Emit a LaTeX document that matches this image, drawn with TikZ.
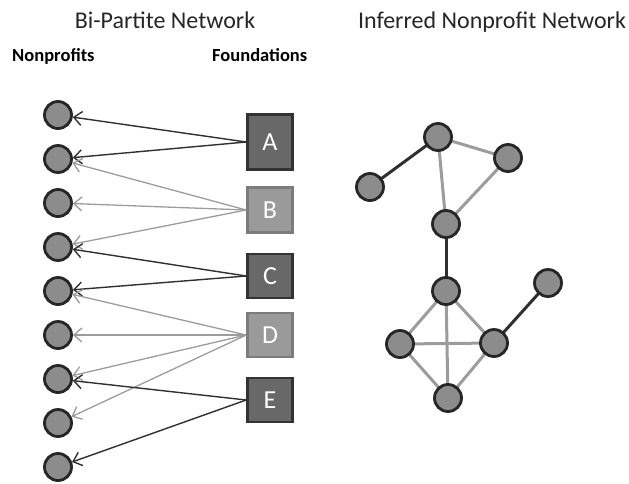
\documentclass[tikz,border=0pt]{standalone}
\usepackage{fontspec}
\setmainfont{Carlito}
\usetikzlibrary{arrows.meta}
\definecolor{nodefill}{HTML}{8C8C8C}
\definecolor{nodeline}{HTML}{262626}
\definecolor{darkbox}{HTML}{686868}
\definecolor{darkboxline}{HTML}{333333}
\definecolor{lightbox}{HTML}{9A9A9A}
\definecolor{lightboxline}{HTML}{7C7C7C}
\definecolor{darkedge}{HTML}{303030}
\definecolor{lightedge}{HTML}{9C9C9C}
\tikzset{
  npnode/.style={circle, fill=nodefill, draw=nodeline, line width=2.8pt, minimum size=27pt, inner sep=0pt},
  fdark/.style={rectangle, fill=darkbox, draw=darkboxline, line width=2.6pt, minimum width=45pt, inner sep=0pt, text=white, font=\fontsize{26}{28}\selectfont},
  flight/.style={rectangle, fill=lightbox, draw=lightboxline, line width=2.6pt, minimum width=45pt, inner sep=0pt, text=white, font=\fontsize{26}{28}\selectfont},
  darr/.style={draw=darkedge, line width=1.4pt, -{Straight Barb[length=8pt,width=14pt]}},
  larr/.style={draw=lightedge, line width=1.3pt, -{Straight Barb[length=8pt,width=14pt]}},
  dedge/.style={draw=darkedge, line width=3pt},
  ledge/.style={draw=lightedge, line width=3pt},
  title/.style={font=\fontsize{24}{28}\selectfont, text=black!85, anchor=base, inner sep=0pt},
  colhead/.style={font=\bfseries\fontsize{18.5}{22}\selectfont, anchor=base west, inner sep=0pt},
}
\begin{document}
\begin{tikzpicture}[x=1pt, y=-1pt]
\useasboundingbox (0,0) rectangle (629,483);
% titles
\node[title] (t1) at (165,28) {Bi-Partite Network};
\node[title] (t2) at (492,28) {Inferred Nonprofit Network};
\node[colhead] (h1) at (12,61) {Nonprofits};
\node[colhead] (h2) at (212,61) {Foundations};
% nonprofits
\foreach \i/\y in {1/115,2/159,3/203,4/247,5/291,6/335,7/379,8/423,9/467}
  \node[npnode] (n\i) at (58,\y) {};
% foundations
\node[fdark, minimum height=55pt] (A) at (270,142) {A};
\node[flight, minimum height=45pt] (B) at (270,210) {B};
\node[fdark, minimum height=44pt] (C) at (270,276) {C};
\node[flight, minimum height=44pt] (D) at (270,335) {D};
\node[fdark, minimum height=44pt] (E) at (270,400) {E};
% arrows
\draw[darr] (A.west) -- (n1);
\draw[darr] (A.west) -- (n2);
\draw[larr] (B.west) -- (n2);
\draw[larr] (B.west) -- (n3);
\draw[larr] (B.west) -- (n4);
\draw[darr] (C.west) -- (n4);
\draw[darr] (C.west) -- (n5);
\draw[larr] (D.west) -- (n5);
\draw[larr] (D.west) -- (n6);
\draw[larr] (D.west) -- (n7);
\draw[larr] (D.west) -- (n8);
\draw[darr] (E.west) -- (n7);
\draw[darr] (E.west) -- (n9);
% inferred network
\coordinate (p1) at (438,137);
\coordinate (p2) at (508,158);
\coordinate (p3) at (370,187);
\coordinate (p4) at (446,224);
\coordinate (p5) at (446,291);
\coordinate (p6) at (548,283);
\coordinate (p7) at (400,344);
\coordinate (p8) at (494,343);
\coordinate (p9) at (448,398);
\draw[dedge] (p1) -- (p3);
\draw[ledge] (p1) -- (p2);
\draw[ledge] (p1) -- (p4);
\draw[ledge] (p2) -- (p4);
\draw[dedge] (p4) -- (p5);
\draw[ledge] (p5) -- (p7);
\draw[ledge] (p5) -- (p8);
\draw[ledge] (p5) -- (p9);
\draw[ledge] (p7) -- (p8);
\draw[ledge] (p7) -- (p9);
\draw[ledge] (p8) -- (p9);
\draw[dedge] (p8) -- (p6);
\foreach \i in {1,...,9}
  \node[npnode] (m\i) at (p\i) {};
\end{tikzpicture}
\end{document}
